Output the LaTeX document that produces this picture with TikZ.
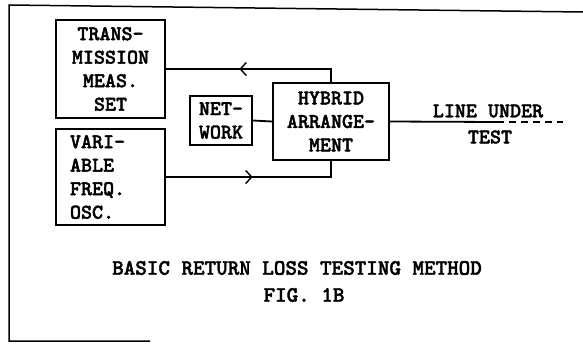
\documentclass[tikz,border=0pt]{standalone}
\usepackage{fontspec}
\newfontfamily\typew{lmmonolt10-bold.otf}[FakeBold=1.8]
\usetikzlibrary{arrows.meta,decorations.markings}
\tikzset{
  txt/.style={font=\typew\fontsize{21}{23.5}\selectfont},
  box/.style={draw, line width=1.3pt, inner sep=0pt, txt},
  conn/.style={line width=1.8pt},
  lbl/.style={txt, inner sep=0pt},
  midarrow/.style={postaction={decorate, decoration={markings,
     mark=at position #1 with {\arrow{Straight Barb[length=6pt,width=13pt,line width=1.4pt]}}}}}
}
\begin{document}
\begin{tikzpicture}[x=1pt,y=-1pt]
\useasboundingbox (0,0) rectangle (583,343);
% frame
\draw[line width=1.5pt] (150,341) -- (9,341) -- (9,5) -- (583,12);
% boxes
\node[box, minimum width=109pt, minimum height=98pt, align=center] (tms) at (110.5,69)
  {TRANS-\\MISSION\\MEAS.\\SET};
\node[box, minimum width=109pt, minimum height=96pt, text width=81pt, inner xsep=14pt, align=left] (vfo) at (110.5,177)
  {VARI-\\ABLE\\FREQ.\\OSC.};
\node[box, minimum width=62pt, minimum height=49pt, align=center] (net) at (221,120.5)
  {NET-\\WORK};
\node[box, minimum width=116pt, minimum height=77pt, align=center] (hyb) at (331,121.5)
  {HYBRID\\ARRANGE-\\MENT};
% connectors
\draw[conn, midarrow=105pt] (hyb.north) |- (tms.east);
\draw[conn, midarrow=87pt] (vfo.east) -| (hyb.south);
\draw[conn] (net.east) -- (hyb.west);
\coordinate (solidend) at (497,122);
\coordinate (lineend) at (563,122);
\draw[conn] (hyb.east) -- (solidend);
\draw[conn, dash pattern=on 7pt off 5pt] (solidend) -- (lineend);
\node[lbl] (lu) at (488,111) {LINE UNDER};
\node[lbl] (test) at (490,137) {TEST};
% title
\node[lbl, font=\typew\fontsize{22}{24}\selectfont] (title) at (297,268) {BASIC RETURN LOSS TESTING METHOD};
\node[lbl, font=\typew\fontsize{22}{24}\selectfont] (fig) at (304,295) {FIG. 1B};
\end{tikzpicture}
\end{document}
